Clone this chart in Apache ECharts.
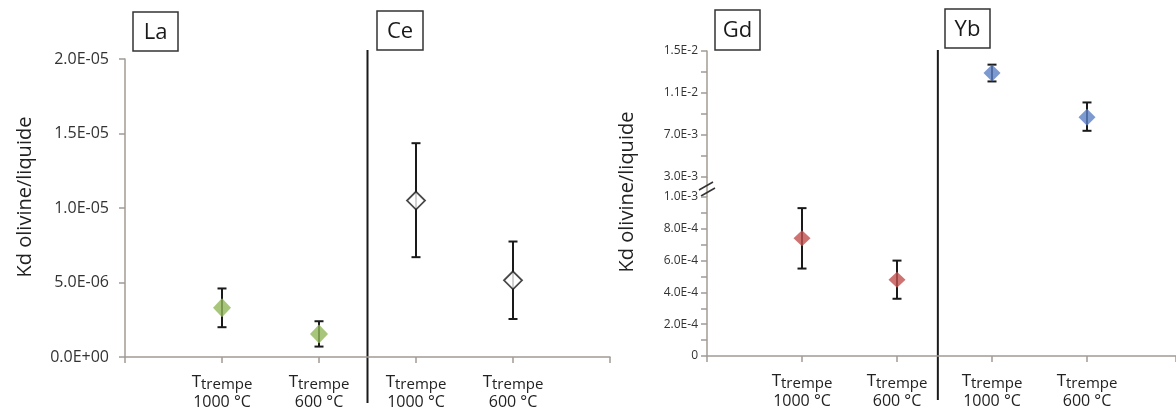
<!DOCTYPE html>
<html>
<head>
<meta charset="utf-8">
<script src="https://cdn.jsdelivr.net/npm/echarts@6/dist/echarts.min.js"></script>
<style>
  html, body { margin: 0; padding: 0; background: #fff; }
  #chart { width: 1176px; height: 411px; }
</style>
</head>
<body>
<div id="chart"></div>
<script>
// column labels under the x axes (position 1..4)
var xLabels = ['', '1000 °C', '600 °C', '1000 °C', '600 °C', ''];
var elements = ['La', 'Ce', 'Gd', 'Yb'];

// La (left chart, positions 1-2)
var laPos = [1, 2];
var laMean = [3.3e-6, 1.55e-6];
var laLow = [2.0e-6, 0.7e-6];
var laHigh = [4.6e-6, 2.4e-6];
// Ce (left chart, positions 3-4)
var cePos = [3, 4];
var ceMean = [1.05e-5, 5.15e-6];
var ceLow = [6.7e-6, 2.55e-6];
var ceHigh = [1.435e-5, 7.75e-6];
// Gd (right chart, lower part)
var gdPos = [1, 2];
var gdMean = [7.4e-4, 4.8e-4];
var gdLow = [5.5e-4, 3.6e-4];
var gdHigh = [9.3e-4, 6.0e-4];
// Yb (right chart, upper part)
var ybPos = [3, 4];
var ybMean = [1.29e-2, 8.7e-3];
var ybLow = [1.21e-2, 7.4e-3];
var ybHigh = [1.37e-2, 1.01e-2];

var axisColor = '#a39b95';
var font = '"Open Sans", sans-serif';

function fmtLeft(v) {
    if (v === 0) return '0.0E+00';
    var p = v.toExponential(1).split('e');
    var n = parseInt(p[1], 10);
    return p[0] + 'E' + (n < 0 ? '-' : '+') + String(Math.abs(n)).padStart(2, '0');
}
function fmtRight(v) {
    if (Math.abs(v) < 1e-12) return '0';
    return v.toExponential(1).toUpperCase();
}

function xAxisCfg(grid, max, show) {
    return {
        type: 'value', gridIndex: grid, min: 0, max: max, interval: 1,
        show: show,
        splitLine: { show: false },
        axisLine: { lineStyle: { color: axisColor, width: 1.5 } },
        axisTick: { length: 6, lineStyle: { color: axisColor, width: 1.5 } },
        axisLabel: {
            margin: 17,
            formatter: function (v) {
                var t = xLabels[Math.round(v)];
                return t ? '{t|T}{s|trempe}\n{d|' + t + '}' : '';
            },
            rich: {
                t: { fontFamily: font, fontSize: 17, color: '#222', lineHeight: 18, verticalAlign: 'top' },
                s: { fontFamily: font, fontSize: 15, color: '#222', lineHeight: 18, verticalAlign: 'bottom', padding: [3, 0, 0, 0] },
                d: { fontFamily: font, fontSize: 16, color: '#222', lineHeight: 20 }
            }
        }
    };
}

function yAxisCfg(grid, min, max, interval, fmt, size, margin, minor) {
    return {
        type: 'value', gridIndex: grid, min: min, max: max, interval: interval,
        splitLine: { show: false },
        axisLine: { show: true, lineStyle: { color: axisColor, width: 1.5 } },
        axisTick: { show: true, length: 6, lineStyle: { color: axisColor, width: 1.5 } },
        minorTick: { show: minor, splitNumber: 2, length: 6, lineStyle: { color: axisColor, width: 1.5 } },
        axisLabel: { formatter: fmt, fontFamily: font, fontSize: size, color: '#333', margin: margin }
    };
}

function errSeries(xi, yi, pos, low, high) {
    return {
        type: 'custom', xAxisIndex: xi, yAxisIndex: yi, z: 2,
        data: pos.map(function (p, i) { return [p, low[i], high[i]]; }),
        renderItem: function (params, api) {
            var a = api.coord([api.value(0), api.value(1)]);
            var b = api.coord([api.value(0), api.value(2)]);
            var st = { stroke: '#1a1a1a', lineWidth: 2 };
            return {
                type: 'group',
                children: [
                    { type: 'line', shape: { x1: a[0], y1: a[1], x2: b[0], y2: b[1] }, style: st },
                    { type: 'line', shape: { x1: a[0] - 4.5, y1: a[1], x2: a[0] + 4.5, y2: a[1] }, style: st },
                    { type: 'line', shape: { x1: b[0] - 4.5, y1: b[1], x2: b[0] + 4.5, y2: b[1] }, style: st }
                ]
            };
        }
    };
}

function pointSeries(xi, yi, pos, mean, style, size) {
    return {
        type: 'scatter', xAxisIndex: xi, yAxisIndex: yi, z: 3,
        symbol: 'diamond', symbolSize: size,
        itemStyle: style,
        data: pos.map(function (p, i) { return [p, mean[i]]; })
    };
}

var chart = echarts.init(document.getElementById('chart'));
chart.setOption({
    animation: false,
    backgroundColor: '#fff',
    grid: [
        { left: 125, top: 59, width: 485, height: 298, containLabel: false, outerBoundsMode: 'none' },
        { left: 707, top: 197, width: 469, height: 159, containLabel: false, outerBoundsMode: 'none' },
        { left: 707, top: 51, width: 469, height: 126, containLabel: false, outerBoundsMode: 'none' }
    ],
    xAxis: [
        xAxisCfg(0, 5, true),
        xAxisCfg(1, 469 / 95, true),
        xAxisCfg(2, 469 / 95, false)
    ],
    yAxis: [
        (function () {
            var a = yAxisCfg(0, 0, 2e-5, 5e-6, fmtLeft, 16, 16, false);
            a.name = 'Kd olivine/liquide';
            a.nameLocation = 'middle';
            a.nameGap = 90;
            a.nameTextStyle = { fontFamily: font, fontSize: 20, color: '#222', padding: [0, 0, 0, 22] };
            return a;
        })(),
        yAxisCfg(1, 0, 1e-3, 2e-4, fmtRight, 12, 9, true),
        yAxisCfg(2, 3e-3, 1.5e-2, 4e-3, fmtRight, 12, 9, true)
    ],
    series: [
        errSeries(0, 0, laPos, laLow, laHigh),
        pointSeries(0, 0, laPos, laMean, { color: '#92b85a' }, [18, 19]),
        errSeries(0, 0, cePos, ceLow, ceHigh),
        pointSeries(0, 0, cePos, ceMean, { color: '#fff', borderColor: '#1a1a1a', borderWidth: 1.8 }, [18, 18]),
        errSeries(1, 1, gdPos, gdLow, gdHigh),
        pointSeries(1, 1, gdPos, gdMean, { color: '#c0504d' }, [17, 16]),
        errSeries(2, 2, ybPos, ybLow, ybHigh),
        pointSeries(2, 2, ybPos, ybMean, { color: '#5b7fc4' }, [17, 17])
    ]
});

// decorations: separators, element boxes, break mark, right axis title
var sepL = chart.convertToPixel({ xAxisIndex: 0 }, 2.5);
var sepR = chart.convertToPixel({ xAxisIndex: 1 }, 2.43);
var boxes = [[133, 12, 45, 39], [377, 11, 46, 39], [715, 10, 45, 40], [945, 9, 45, 39]];
var graphics = [
    { type: 'line', shape: { x1: sepL, y1: 50, x2: sepL, y2: 403 }, style: { stroke: '#1a1a1a', lineWidth: 2 } },
    { type: 'line', shape: { x1: sepR, y1: 50, x2: sepR, y2: 400 }, style: { stroke: '#1a1a1a', lineWidth: 2 } },
    { type: 'line', shape: { x1: 707, y1: 177, x2: 707, y2: 197 }, style: { stroke: axisColor, lineWidth: 1.5 } },
    { type: 'line', shape: { x1: 699, y1: 190, x2: 713, y2: 182 }, style: { stroke: '#333', lineWidth: 1.5 } },
    { type: 'line', shape: { x1: 701, y1: 196, x2: 715, y2: 188 }, style: { stroke: '#333', lineWidth: 1.5 } },
    {
        type: 'text', x: 627, y: 192, rotation: Math.PI / 2,
        style: { text: 'Kd olivine/liquide', fontFamily: font, fontSize: 20, fill: '#222', align: 'center', verticalAlign: 'middle' }
    }
];
boxes.forEach(function (b, i) {
    graphics.push({ type: 'rect', shape: { x: b[0], y: b[1], width: b[2], height: b[3] }, style: { fill: '#fff', stroke: '#333', lineWidth: 1.5 } });
    graphics.push({
        type: 'text', x: b[0] + b[2] / 2, y: b[1] + b[3] / 2 + 1,
        style: { text: elements[i], fontFamily: font, fontSize: 22, fill: '#1a1a1a', align: 'center', verticalAlign: 'middle' }
    });
});
chart.setOption({ graphic: graphics });
</script>
</body>
</html>
